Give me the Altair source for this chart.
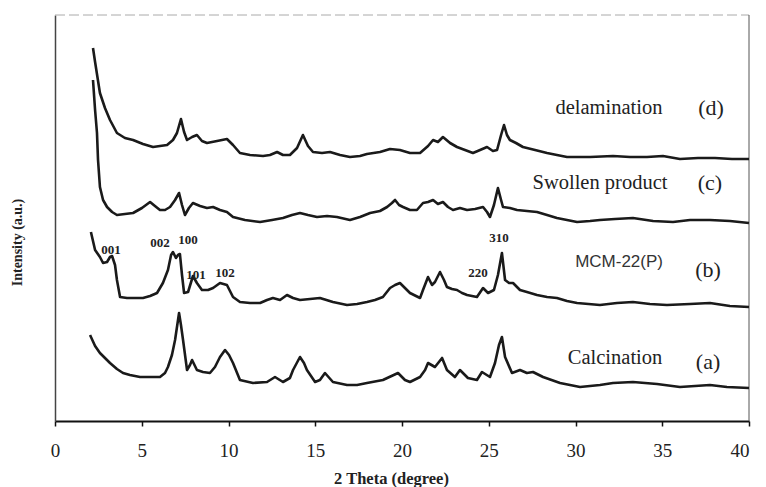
import altair as alt
import pandas as pd

# ---- (d) delamination ----
x_d = [2.19, 2.31, 2.59, 2.88, 3.17, 3.57, 4.03, 4.50, 5.07, 5.65, 6.05, 6.46, 6.80, 7.03, 7.26, 7.44, 7.61, 7.90, 8.18, 8.47,
       8.76, 9.34, 9.91, 10.26, 10.66, 11.24, 11.99, 12.39, 12.80, 13.14, 13.54, 13.95, 14.29, 14.58, 14.87, 15.39, 15.85, 16.43, 17.00, 17.58,
       17.98, 18.73, 19.31, 19.88, 20.46, 21.04, 21.50, 21.79, 22.07, 22.36, 22.77, 23.17, 23.63, 24.09, 24.50, 24.90, 25.24, 25.48, 25.71, 25.88,
       26.05, 26.22, 26.57, 26.97, 27.67, 28.36, 28.93, 29.51, 30.84, 32.16, 33.14, 34.12, 35.04, 36.02, 37.06, 38.04, 39.02, 40.0]
y_d = [373, 359, 328, 313, 301, 288, 283, 281, 277, 274, 275, 276, 281, 288, 302, 289, 281, 284, 286, 280,
       278, 280, 282, 276, 268, 266, 265, 266, 269, 266, 266, 273, 286, 275, 269, 268, 269, 266, 264, 265,
       267, 269, 272, 271, 268, 268, 275, 281, 279, 284, 278, 274, 271, 268, 271, 274, 270, 271, 286, 296,
       286, 281, 278, 274, 271, 268, 266, 264, 264, 265, 264, 264, 265, 262, 263, 263, 262, 262]

# ---- (c) swollen product ----
x_c = [2.19, 2.31, 2.42, 2.48, 2.59, 2.77, 3.00, 3.29, 3.57, 4.03, 4.50, 5.01, 5.48, 5.76, 6.05, 6.34, 6.63, 6.92, 7.15, 7.32,
       7.49, 7.72, 7.95, 8.36, 8.76, 9.11, 9.51, 9.91, 10.26, 10.95, 11.82, 12.51, 13.14, 13.66, 14.12, 14.58, 15.10, 15.68, 16.25, 17.00,
       17.58, 18.16, 18.73, 19.14, 19.42, 19.60, 19.83, 20.06, 20.46, 20.86, 21.21, 21.50, 21.79, 22.07, 22.36, 22.65, 22.94, 23.34, 23.75, 24.21,
       24.67, 24.90, 25.07, 25.30, 25.53, 25.71, 25.82, 26.22, 26.63, 27.20, 27.78, 28.36, 28.93, 29.51, 30.09, 30.84, 31.41, 32.28, 33.31, 34.47,
       35.62, 36.60, 37.75, 38.90, 40.0]
y_c = [341, 311, 288, 261, 234, 221, 214, 209, 206, 207, 208, 213, 219, 215, 211, 211, 214, 221, 228, 216,
       206, 213, 218, 215, 213, 214, 211, 209, 204, 201, 199, 201, 203, 206, 208, 206, 204, 205, 204, 201,
       204, 208, 210, 214, 218, 221, 216, 214, 211, 211, 218, 219, 221, 217, 219, 214, 211, 213, 211, 212,
       214, 209, 204, 216, 233, 221, 214, 213, 211, 210, 209, 206, 203, 201, 199, 200, 201, 202, 203, 200,
       199, 201, 201, 200, 198]

# ---- (b) MCM-22(P) ----
x_b = [2.07, 2.31, 2.59, 2.77, 3.00, 3.17, 3.29, 3.46, 3.57, 3.75, 4.15, 4.61, 5.07, 5.48, 5.88, 6.22, 6.51, 6.69, 6.80, 6.97,
       7.09, 7.20, 7.32, 7.44, 7.67, 7.95, 8.18, 8.47, 8.82, 9.11, 9.51, 9.91, 10.26, 10.66, 11.24, 11.82, 12.22, 12.56, 12.97, 13.37,
       13.72, 14.12, 14.70, 15.27, 16.02, 16.83, 17.41, 17.98, 18.44, 18.90, 19.31, 19.60, 19.88, 20.17, 20.46, 21.04, 21.21, 21.50, 21.73, 21.90,
       22.19, 22.42, 22.59, 22.88, 23.17, 23.46, 23.75, 24.32, 24.67, 24.96, 25.30, 25.53, 25.76, 25.94, 26.17, 26.40, 26.80, 27.20, 27.78, 28.36,
       28.93, 29.51, 30.09, 31.41, 32.39, 33.31, 34.29, 35.27, 36.60, 37.75, 38.90, 40.0]
y_b = [189, 171, 164, 158, 159, 164, 165, 156, 141, 124, 123, 123, 123, 125, 128, 138, 151, 166, 169, 163,
       166, 167, 146, 128, 129, 145, 138, 131, 131, 133, 138, 136, 124, 119, 118, 118, 121, 123, 121, 126,
       123, 121, 122, 123, 119, 116, 117, 119, 121, 124, 133, 136, 138, 133, 128, 123, 131, 144, 136, 139,
       149, 141, 134, 132, 131, 128, 126, 124, 133, 128, 131, 146, 168, 141, 138, 138, 131, 129, 126, 124,
       123, 120, 118, 116, 118, 119, 117, 116, 117, 118, 115, 114]

# ---- (a) calcination ----
x_a = [2.02, 2.31, 2.59, 2.88, 3.17, 3.57, 3.92, 4.32, 4.90, 5.48, 6.05, 6.34, 6.51, 6.74, 6.92, 7.15, 7.26, 7.38, 7.61, 7.78,
       7.90, 8.18, 8.53, 8.93, 9.22, 9.51, 9.80, 10.03, 10.26, 10.66, 11.41, 12.22, 12.68, 13.14, 13.54, 13.72, 14.12, 14.35, 14.52, 14.99,
       15.27, 15.56, 16.02, 16.83, 17.41, 17.98, 18.90, 19.77, 20.17, 20.46, 21.04, 21.33, 21.50, 21.90, 22.31, 22.59, 23.05, 23.34, 23.80, 24.32,
       24.61, 25.07, 25.36, 25.59, 25.76, 25.94, 26.34, 26.80, 27.20, 27.55, 28.13, 29.11, 30.26, 31.41, 32.16, 33.31, 34.70, 36.02, 36.89, 37.75,
       38.73, 40.0]
y_a = [86, 75, 68, 63, 58, 52, 48, 46, 44, 44, 44, 48, 54, 66, 81, 108, 96, 81, 51, 56,
       61, 51, 49, 48, 54, 64, 71, 66, 58, 41, 38, 39, 44, 39, 43, 51, 64, 58, 51, 39,
       41, 48, 39, 36, 36, 38, 41, 48, 41, 39, 44, 51, 58, 54, 63, 51, 44, 51, 43, 41,
       49, 44, 58, 76, 84, 64, 48, 51, 48, 49, 44, 38, 34, 36, 38, 39, 37, 34, 35, 36,
       34, 33]

# ---- peak (hkl) labels on trace (b) ----
peak_text = ["001", "002", "100", "101", "102", "220", "310"]
peak_x = [3.23, 6.05, 7.67, 8.13, 9.80, 24.38, 25.59]
peak_y = [171, 178, 181, 146, 148, 148, 183]

# ---- series labels ----
name_text = ["delamination", "Swollen product", "Calcination"]
name_x = [31.93, 31.41, 32.28]
name_y = [313, 238, 63]
sans_text = ["MCM-22(P)"]
sans_x = [32.51]
sans_y = [159]
tag_text = ["(d)", "(c)", "(b)", "(a)"]
tag_x = [37.81, 37.75, 37.64, 37.64]
tag_y = [313, 238, 151, 59]

rows = []
for name, xs, ys in [("d", x_d, y_d), ("c", x_c, y_c), ("b", x_b, y_b), ("a", x_a, y_a)]:
    for xv, yv in zip(xs, ys):
        rows.append({"series": name, "theta": xv, "intensity": yv})
df = pd.DataFrame(rows)

W, H = 694, 406
xsc = alt.Scale(domain=[0, 40], nice=False, zero=False)
ysc = alt.Scale(domain=[0, 406], nice=False, zero=False)

x_axis = alt.Axis(
    title="2 Theta (degree)", values=list(range(0, 41, 5)), grid=False,
    domainColor="#111", domainWidth=2, tickColor="#111", tickSize=5, tickWidth=1.5,
    labelFont="Liberation Serif", labelFontSize=19, labelColor="#222", labelPadding=24,
    labelBaseline="middle", labelFlush=False,
    labelAlign={"condition": {"test": "datum.value == 40", "value": "right"}, "value": "center"},
    titleFont="Liberation Serif", titleFontSize=16.5, titleFontWeight="bold", titleColor="#222",
    titleX=336, titleY=57, titleBaseline="middle",
)
y_axis = alt.Axis(
    title="Intensity (a.u.)", labels=False, ticks=False, grid=False,
    domainColor="#444", domainWidth=1.5,
    titleFont="Liberation Serif", titleFontSize=14, titleFontWeight="bold", titleColor="#222",
    titleX=-38, titleY=227, titleAngle=-90, titleBaseline="middle", titleAlign="center",
)

lines = alt.Chart(df).mark_line(color="#1a1a1a", strokeWidth=2.6, strokeJoin="round").encode(
    x=alt.X("theta:Q", scale=xsc, axis=x_axis),
    y=alt.Y("intensity:Q", scale=ysc, axis=y_axis),
    detail="series:N",
)

peaks = alt.Chart(pd.DataFrame({"t": peak_text, "x": peak_x, "y": peak_y})).mark_text(
    font="Liberation Serif", fontSize=13, fontWeight="bold", color="#222", baseline="middle", align="center"
).encode(x=alt.X("x:Q", scale=xsc), y=alt.Y("y:Q", scale=ysc), text="t:N")

names = alt.Chart(pd.DataFrame({"t": name_text, "x": name_x, "y": name_y})).mark_text(
    font="Liberation Serif", fontSize=20.5, color="#222", baseline="middle", align="center"
).encode(x=alt.X("x:Q", scale=xsc), y=alt.Y("y:Q", scale=ysc), text="t:N")

sans = alt.Chart(pd.DataFrame({"t": sans_text, "x": sans_x, "y": sans_y})).mark_text(
    font="Liberation Sans", fontSize=17, color="#333", baseline="middle", align="center"
).encode(x=alt.X("x:Q", scale=xsc), y=alt.Y("y:Q", scale=ysc), text="t:N")

tags = alt.Chart(pd.DataFrame({"t": tag_text, "x": tag_x, "y": tag_y})).mark_text(
    font="Liberation Serif", fontSize=22, color="#222", baseline="middle", align="center"
).encode(x=alt.X("x:Q", scale=xsc), y=alt.Y("y:Q", scale=ysc), text="t:N")

one = alt.Data(values=[{}])
right_border = alt.Chart(one).mark_rule(color="#555", strokeWidth=1).encode(
    x=alt.value(W), y=alt.value(0), y2=alt.value(H))
top_border = alt.Chart(one).mark_rule(color="#aaa", strokeWidth=1, strokeDash=[10, 4]).encode(
    x=alt.value(0), x2=alt.value(W), y=alt.value(0))

chart = alt.layer(top_border, right_border, lines, peaks, names, sans, tags).properties(
    width=W, height=H,
    autosize=alt.AutoSizeParams(type="none"),
    padding={"left": 55, "top": 15, "right": 17, "bottom": 66},
    background="white",
).configure_view(stroke=None)

chart.save("out.html", embed_options={"renderer": "svg", "actions": False})
